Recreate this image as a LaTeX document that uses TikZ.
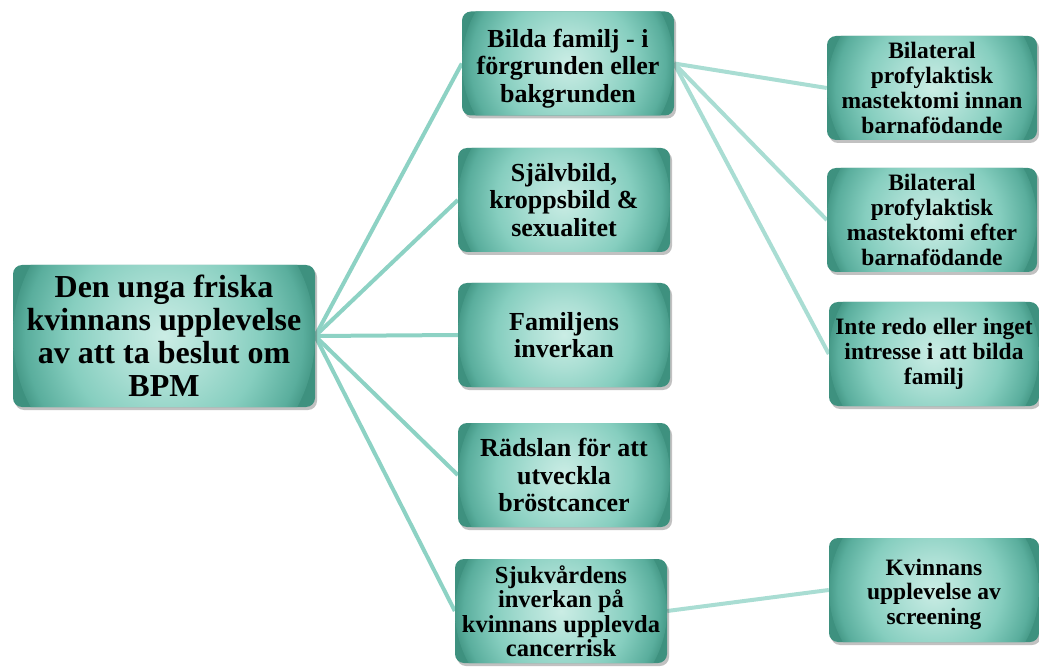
\documentclass[tikz,border=0pt]{standalone}
\usepackage{fontspec}
\setmainfont{Liberation Serif}
\usetikzlibrary{shadows,backgrounds}
\definecolor{cA}{HTML}{CBEDE5}
\definecolor{cB}{HTML}{ABDFD4}
\definecolor{cC}{HTML}{86CEBF}
\definecolor{cD}{HTML}{5AAE9D}
\definecolor{cE}{HTML}{3E917F}
\definecolor{lineA}{HTML}{8DD2C4}
\definecolor{lineB}{HTML}{A9DDD3}
\pgfdeclareradialshading{boxshade}{\pgfpoint{0bp}{0bp}}{color(0bp)=(cA); color(8bp)=(cB); color(16bp)=(cC); color(23bp)=(cD); color(26bp)=(cE); color(50bp)=(cE)}
\tikzset{
 box/.style={rounded corners=9pt, draw=none, fill=cE, align=center, inner sep=0pt,
   drop shadow={shadow xshift=2pt, shadow yshift=-3pt, opacity=0.35, fill=black!70},
   path picture={\shade[shading=boxshade] (path picture bounding box.center) circle (#1);}},
 rootbox/.style={box=151pt, minimum width=302pt, minimum height=142pt,
   font=\fontsize{32}{33}\selectfont\bfseries},
 midbox/.style={box=106pt, minimum width=212pt, minimum height=104pt,
   font=\fontsize{26}{27.5}\selectfont\bfseries},
 smallmid/.style={font=\fontsize{24.5}{24.5}\selectfont\bfseries},
 rightbox/.style={box=105pt, minimum width=210pt, minimum height=104pt,
   font=\fontsize{23.5}{24.7}\selectfont\bfseries},
 connA/.style={line width=4pt, draw=lineA},
 connB/.style={line width=4pt, draw=lineB},
}
\begin{document}
\begin{tikzpicture}[x=1pt,y=-1pt]
\useasboundingbox (0,0) rectangle (1039,668);
\node[rootbox] (root) at (164,336) {Den unga friska\\kvinnans upplevelse\\av att ta beslut om\\BPM};
\node[midbox] (m1) at (568,63.5) {\rule{0pt}{28pt}Bilda familj - i\\förgrunden eller\\bakgrunden};
\node[midbox] (m2) at (564,200) {Självbild,\\kroppsbild \&\\sexualitet};
\node[midbox] (m3) at (564,335) {Familjens\\inverkan};
\node[midbox] (m4) at (564,475) {Rädslan för att\\utveckla\\bröstcancer};
\node[midbox, smallmid] (m5) at (561,611) {Sjukvårdens\\inverkan på\\kvinnans upplevda\\cancerrisk};
\node[rightbox] (r1) at (932,88) {Bilateral\\profylaktisk\\mastektomi innan\\barnafödande};
\node[rightbox] (r2) at (932,220) {Bilateral\\profylaktisk\\mastektomi efter\\barnafödande};
\node[rightbox] (r3) at (934,354) {Inte redo eller inget\\intresse i att bilda\\familj};
\node[rightbox] (r4) at (934,590) {\rule{0pt}{25pt}Kvinnans\\upplevelse av\\screening};
\begin{scope}[on background layer]
\foreach \m in {m1,m2,m3,m4,m5} \draw[connA] (root.east) -- (\m.west);
\foreach \r in {r1,r2,r3} \draw[connB] (m1.east) -- (\r.west);
\draw[connB] (m5.east) -- (r4.west);
\end{scope}
\end{tikzpicture}
\end{document}
